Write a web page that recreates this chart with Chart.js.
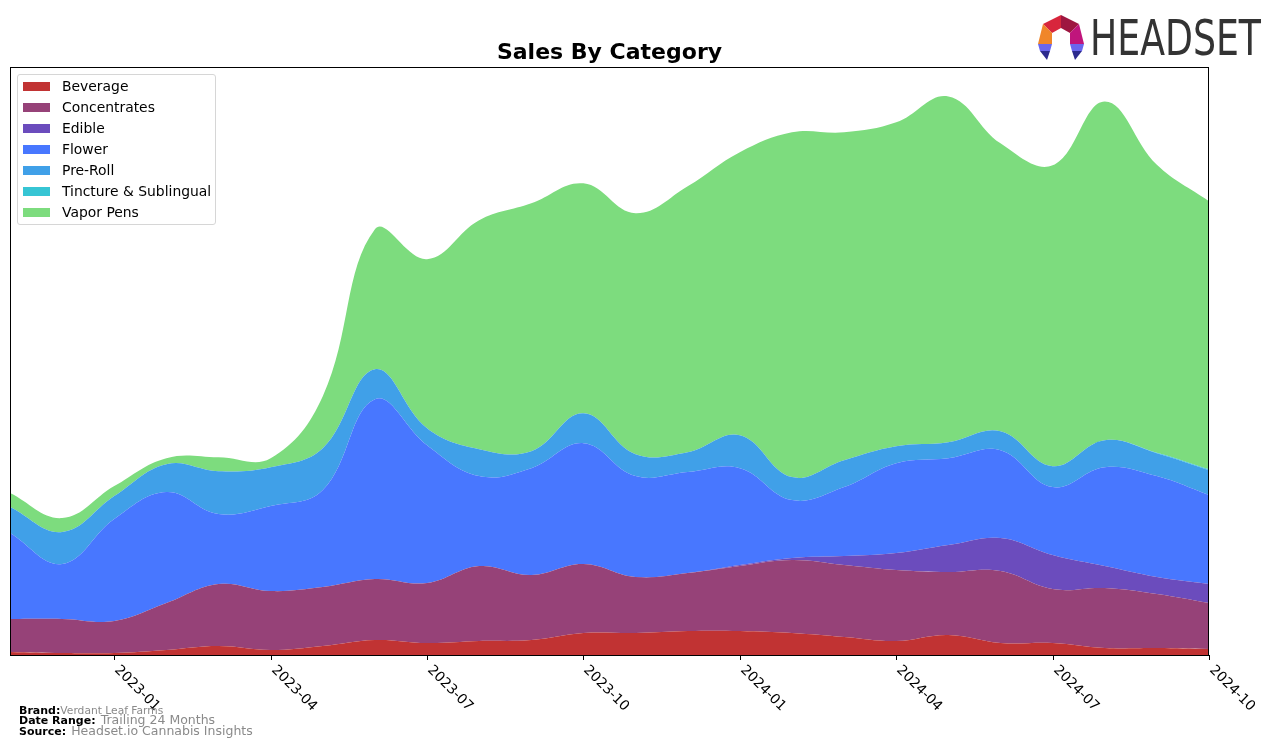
<!DOCTYPE html>
<html>
<head>
<meta charset="utf-8">
<script src="https://cdn.jsdelivr.net/npm/chart.js@4.4.1/dist/chart.umd.min.js"></script>
<style>
  body { margin: 0; background: #fff; font-family: "DejaVu Sans", sans-serif; }
  #wrap { position: relative; width: 1276px; height: 747px; overflow: hidden; }
  #salesChart { position: absolute; left: 0; top: 0; }
  #legend {
    position: absolute; left: 17px; top: 74px; width: 197px; height: 149px;
    border: 1px solid #d6d6d6; border-radius: 3px; background: rgba(255,255,255,0.8);
  }
  .legend-item { position: absolute; left: 0; height: 20px; width: 190px; }
  .legend-swatch { position: absolute; left: 5px; top: 6px; width: 27px; height: 9px; }
  .legend-label { position: absolute; left: 44px; top: 1px; font-size: 13.9px; line-height: 18px; color: #000; white-space: nowrap; }
  .foot { position: absolute; left: 19px; white-space: nowrap; color: #000; }
  .foot b { font-size: 11px; }
  .foot span { color: #8a8a8a; }
  #logoText {
    position: absolute; left: 1090px; top: 9px; font-size: 49px; color: #333;
    transform: scaleX(0.74); transform-origin: left top; line-height: 60px;
  }
</style>
</head>
<body>
<div id="wrap">
  <canvas id="salesChart" width="1276" height="747"></canvas>
  <div id="legend"></div>
  <svg width="1276" height="80" style="position:absolute;left:0;top:0">
    <polygon points="1061,15 1043,24 1052,33 1061,28" fill="#d8263c"/>
    <polygon points="1061,15 1079,24 1070,33 1061,28" fill="#9e1640"/>
    <polygon points="1043,24 1038,44 1052,44 1052,33" fill="#f0862a"/>
    <polygon points="1079,24 1084,44 1070,44 1070,33" fill="#c0157c"/>
    <polygon points="1038,44 1052,44 1050,51 1040,51" fill="#6a66ee"/>
    <polygon points="1040,51 1050,51 1047,60" fill="#2c2a8e"/>
    <polygon points="1084,44 1070,44 1072,51 1082,51" fill="#6a66ee"/>
    <polygon points="1082,51 1072,51 1075,60" fill="#2c2a8e"/>
  </svg>
  <div id="logoText">HEADSET</div>
  <div class="foot" style="top:699px"><b>Brand:</b><span style="font-size:10.7px">Verdant Leaf Farms</span></div>
  <div class="foot" style="top:709px"><b>Date Range:</b> <span style="font-size:12.5px">Trailing 24 Months</span></div>
  <div class="foot" style="top:720px"><b>Source:</b> <span style="font-size:12.5px">Headset.io Cannabis Insights</span></div>
</div>
<script>
const months = ['2022-11', '2022-12', '2023-01', '2023-02', '2023-03', '2023-04', '2023-05', '2023-06',
    '2023-07', '2023-08', '2023-09', '2023-10', '2023-11', '2023-12', '2024-01', '2024-02',
    '2024-03', '2024-04', '2024-05', '2024-06', '2024-07', '2024-08', '2024-09', '2024-10']

const tickMonths = ['2023-01', '2023-04', '2023-07', '2023-10', '2024-01', '2024-04', '2024-07', '2024-10']

const categories = ['Beverage', 'Concentrates', 'Edible', 'Flower', 'Pre-Roll', 'Tincture & Sublingual', 'Vapor Pens']
const colors = ['#c13333', '#964278', '#6b4cbd', '#4877ff', '#40a0e8', '#36c5d4', '#7ddc7e']

// sales per month, same scale for all categories
const beverage = [3, 2, 2, 5, 9, 5, 9, 15, 12, 14, 15, 22, 22, 24, 24, 22, 18, 14, 20, 12, 12, 7, 7, 6]
const concentrates = [33, 34, 32, 47, 62, 59, 59, 61, 60, 75, 65, 69, 56, 58, 65, 73, 72, 71, 63, 72, 54, 60, 54, 46]
const edible = [0, 0, 0, 0, 0, 0, 0, 0, 0, 0, 0, 0, 0, 0, 1, 2, 9, 17, 27, 33, 34, 22, 17, 19]
const flower = [86, 55, 102, 111, 70, 85, 97, 180, 138, 90, 107, 121, 101, 101, 97, 58, 69, 90, 87, 88, 68, 99, 101, 89]
const preRoll = [26, 32, 23, 28, 43, 39, 42, 30, 17, 27, 17, 30, 22, 20, 33, 23, 27, 17, 16, 19, 21, 27, 23, 25]
const tincture = [0, 0, 0, 0, 0, 0, 0, 0, 0, 0, 0, 0, 0, 0, 0, 0, 0, 0, 0, 0, 0, 0, 0.5, 1]
const vaporPens = [14, 14, 10, 6, 14, 9, 52, 140, 169, 229, 248, 230, 241, 266, 283, 345, 328, 324, 346, 288, 301, 339, 288, 268]

const seriesValues = [beverage, concentrates, edible, flower, preRoll, tincture, vaporPens]

// Legend (inside the plot, top-left)
const legendBox = document.getElementById('legend')
categories.forEach((name, i) => {
    const item = document.createElement('div')
    item.className = 'legend-item'
    item.style.top = (1 + i * 21) + 'px'
    const swatch = document.createElement('div')
    swatch.className = 'legend-swatch'
    swatch.style.background = colors[i]
    const label = document.createElement('div')
    label.className = 'legend-label'
    label.textContent = name
    item.appendChild(swatch)
    item.appendChild(label)
    legendBox.appendChild(item)
})

// Frame, tick marks and rotated month labels
const axisPlugin = {
    id: 'axisPlugin',
    afterDraw(chart) {
        const ctx = chart.ctx
        const area = chart.chartArea
        const xScale = chart.scales.x
        ctx.save()
        ctx.strokeStyle = '#000'
        ctx.lineWidth = 1
        ctx.strokeRect(Math.round(area.left) + 0.5, Math.round(area.top) + 0.5,
            Math.round(area.right - area.left) - 1, Math.round(area.bottom - area.top))
        ctx.font = '13.9px "DejaVu Sans"'
        ctx.fillStyle = '#000'
        ctx.textAlign = 'left'
        ctx.textBaseline = 'top'
        tickMonths.forEach(m => {
            const px = Math.round(xScale.getPixelForValue(months.indexOf(m))) + 0.5
            ctx.beginPath()
            ctx.moveTo(px, area.bottom)
            ctx.lineTo(px, area.bottom + 5)
            ctx.stroke()
            ctx.save()
            ctx.translate(px + 7, area.bottom + 8)
            ctx.rotate(Math.PI / 4)
            ctx.fillText(m, 0, 0)
            ctx.restore()
        })
        ctx.restore()
    }
}

const chart = new Chart(document.getElementById('salesChart'), {
    type: 'line',
    data: {
        labels: months,
        datasets: categories.map((name, i) => ({
            label: name,
            data: seriesValues[i],
            backgroundColor: colors[i],
            borderColor: colors[i],
            borderWidth: 0,
            pointRadius: 0,
            tension: 0.4,
            fill: i === 0 ? 'origin' : '-1'
        }))
    },
    options: {
        responsive: false,
        devicePixelRatio: 1,
        animation: false,
        layout: { padding: { left: 10, right: 67, top: 0, bottom: 92 } },
        scales: {
            x: { display: false, offset: false },
            y: { display: false, stacked: true, min: 0, max: 588 }
        },
        plugins: {
            legend: { display: false },
            tooltip: { enabled: false },
            title: {
                display: true,
                text: 'Sales By Category',
                color: '#000',
                font: { family: 'DejaVu Sans', size: 22, weight: 'bold', lineHeight: 1.2 },
                padding: { top: 40.5, bottom: 0.5 }
            }
        }
    },
    plugins: [axisPlugin]
})
</script>
</body>
</html>
